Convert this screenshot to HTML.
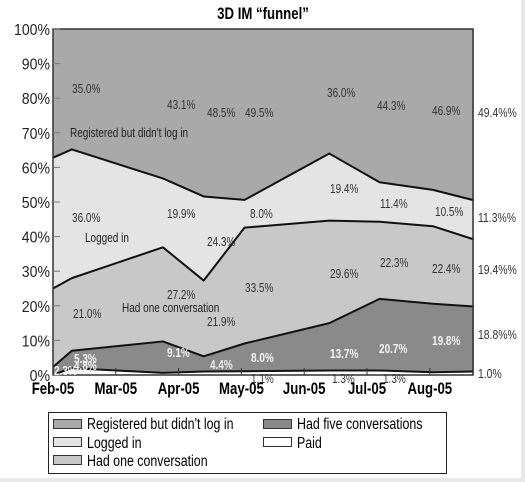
<!DOCTYPE html>
<html><head><meta charset="utf-8"><style>
body{margin:0;background:#fff;}
svg{display:block;font-family:"Liberation Sans Narrow","Liberation Sans",sans-serif;}
</style></head><body>
<svg id="chart" width="525" height="482" viewBox="0 0 525 482" xmlns="http://www.w3.org/2000/svg">
<rect x="0" y="0" width="525" height="482" fill="#fff"/>
<rect x="521" y="0" width="4" height="482" fill="#e8e8e8"/>
<rect x="0" y="478" width="525" height="4" fill="#e8e8e8"/>
<text x="263" y="19" text-anchor="middle" font-size="16.5" font-weight="bold">3D IM “funnel”</text>
<g id="layers"></g>
<g id="axes"></g>
<g id="labels"></g>
<g>
<rect x="48.5" y="412.5" width="398" height="61" fill="#fff" stroke="#222"/>
<rect x="53.5" y="419.5" width="28" height="9" fill="#a9a9a9" stroke="#333"/>
<text x="87" y="429" font-size="15.5">Registered but didn't log in</text>
<rect x="53.5" y="437.5" width="28" height="9" fill="#e4e4e4" stroke="#333"/>
<text x="87" y="448" font-size="15.5">Logged in</text>
<rect x="53.5" y="455.5" width="28" height="9" fill="#c8c8c8" stroke="#333"/>
<text x="87" y="466" font-size="15.5">Had one conversation</text>
<rect x="263.5" y="419.5" width="28" height="9" fill="#8a8a8a" stroke="#333"/>
<text x="297" y="429" font-size="15.5">Had five conversations</text>
<rect x="263.5" y="437.5" width="28" height="9" fill="#fff" stroke="#333"/>
<text x="297" y="448" font-size="15.5">Paid</text>
</g>
</svg>
<script>
const xMonths = [0, 0.3, 1.75, 2.4, 3.05, 4.4, 5.2, 6.05, 6.7];
const paid = [0, 2.0, 0.6, 1.0, 1.1, 1.3, 1.3, 0.8, 1.0];
const fiveConv = [2.3, 5.0, 9.1, 4.4, 8.0, 13.7, 20.7, 19.8, 18.8];
const oneConv = [22.7, 21.0, 27.2, 21.9, 33.5, 29.6, 22.3, 22.4, 19.4];
const loggedIn = [37.8, 37.2, 19.9, 24.3, 8.0, 19.4, 11.4, 10.5, 11.3];
const monthLabels = ["Feb-05","Mar-05","Apr-05","May-05","Jun-05","Jul-05","Aug-05"];
const yTicks = [0,10,20,30,40,50,60,70,80,90,100];
const rightLabels = ["49.4%%","11.3%%","19.4%%","18.8%%","1.0%"];

const NS = "http://www.w3.org/2000/svg";
const X0 = 53, X1 = 473, Y0 = 375, Y1 = 29, MW = 62.8;
const xs = m => X0 + m * MW;
const ys = v => Y0 - v / 100 * (Y0 - Y1);

function mk(tag, attrs, parent){ const e = document.createElementNS(NS, tag); for (const k in attrs) e.setAttribute(k, attrs[k]); parent.appendChild(e); return e; }

const n = xMonths.length;
const c1 = paid.slice();
const c2 = c1.map((v,i)=>v+fiveConv[i]);
const c3 = c2.map((v,i)=>v+oneConv[i]);
const c4 = c3.map((v,i)=>v+loggedIn[i]);
const c5 = c4.map(()=>100);
const tops = [c1,c2,c3,c4,c5];
const fills = ["#ffffff","#8a8a8a","#c8c8c8","#e4e4e4","#a9a9a9"];
const names = ["area-paid","area-five-conversations","area-one-conversation","area-logged-in","area-registered"];
const layers = document.getElementById("layers");
for (let k = 4; k >= 0; k--) {
  const top = tops[k];
  let d = "M" + xs(xMonths[0]) + "," + ys(0);
  for (let i = 0; i < n; i++) d += " L" + xs(xMonths[i]) + "," + ys(top[i]);
  d += " L" + xs(xMonths[n-1]) + "," + ys(0) + " Z";
  const p = mk("path", {d: d, fill: fills[k]}, layers);
  
  
}
const lineNames = ["line-paid","line-five-conversations","line-one-conversation","line-logged-in"];
for (let k = 0; k < 4; k++) {
  const pts = xMonths.map((m,i)=>xs(m)+","+ys(tops[k][i])).join(" ");
  const l = mk("polyline", {points: pts, fill: "none", stroke: "#111", "stroke-width": 2, "stroke-linejoin": "round"}, layers);
  
  
}

const axes = document.getElementById("axes");
const frame = mk("rect", {x: X0, y: Y1, width: X1 - X0, height: Y0 - Y1, fill: "none", stroke: "#333", "stroke-width": 1.5}, axes);


yTicks.forEach(t => {
  const tl = mk("line", {x1: X0, x2: X0 + 7, y1: ys(t), y2: ys(t), stroke: "#777", "stroke-width": 1}, axes);
  
  
  const tx = mk("text", {x: X0 - 3, y: ys(t) + 6, "text-anchor": "end", "font-size": 16, fill: "#222", "data-cond": "0.88"}, axes);
  tx.textContent = t + "%";
  
  
});
monthLabels.forEach((m, i) => {
  if (i > 0) {
    const tl = mk("line", {x1: xs(i), x2: xs(i), y1: Y0, y2: Y0 - 7, stroke: "#333", "stroke-width": 1}, axes);
    
    
  }
  const tx = mk("text", {x: xs(i), y: 394, "text-anchor": "middle", "font-size": 16.5, "font-weight": "bold"}, axes);
  tx.textContent = m;
  
  
});
const rY = [117, 222, 274, 339, 378];
rightLabels.forEach((t, i) => {
  const tx = mk("text", {x: 478, y: rY[i], "font-size": 13, fill: "#333"}, axes);
  tx.textContent = t;
  
  
});

const annotations = [
  ["35.0%",72,93,"#333"],["43.1%",167,109,"#333"],["48.5%",207,117,"#333"],["49.5%",245,117,"#333"],
  ["36.0%",327,97,"#333"],["44.3%",377,110,"#333"],["46.9%",432,115,"#333"],
  ["Registered but didn't log in",70,137,"#222"],
  ["36.0%",72,222,"#333"],["Logged in",85,242,"#222"],["19.9%",167,218,"#333"],["24.3%",207,246,"#333"],
  ["8.0%",250,218,"#333"],["19.4%",330,193,"#333"],["11.4%",380,208,"#333"],["10.5%",435,216,"#333"],
  ["21.0%",73,318,"#333"],["27.2%",167,299,"#333"],["Had one conversation",122,312,"#222"],["21.9%",207,326,"#333"],
  ["33.5%",245,292,"#333"],["29.6%",330,278,"#333"],["22.3%",380,267,"#333"],["22.4%",432,273,"#333"],
  ["9.1%",167,357,"#f4f4f4"],["4.4%",210,369,"#ececec"],["8.0%",251,362,"#f4f4f4"],
  ["13.7%",330,358,"#f4f4f4"],["20.7%",379,353,"#f4f4f4"],["19.8%",432,345,"#f4f4f4"],
  ["5.3%",74,363,"#f4f4f4"],["4.8%",74,370,"#f4f4f4"],["2.3%",54,375,"#f4f4f4"],
  ["1.1%",251,383,"#333"],["1.3%",332,383,"#333"],["1.3%",383,383,"#333"]
];
const lab = document.getElementById("labels");
annotations.forEach(a => {
  const bold = a[3] !== "#333" && a[3] !== "#222";
  const tx = mk("text", {x: a[1], y: a[2], "font-size": 12.5, fill: a[3], "font-weight": bold ? "bold" : "normal"}, lab);
  tx.textContent = a[0];
  
  
});
// condense all text to mimic a narrow font
document.querySelectorAll("#chart text").forEach(t => {
  const len = t.getComputedTextLength();
  const f = parseFloat(t.getAttribute("data-cond") || "0.8");
  if (len > 0) {
    t.setAttribute("textLength", (len * f).toFixed(1));
    t.setAttribute("lengthAdjust", "spacingAndGlyphs");
  }
});
</script>
</body></html>
